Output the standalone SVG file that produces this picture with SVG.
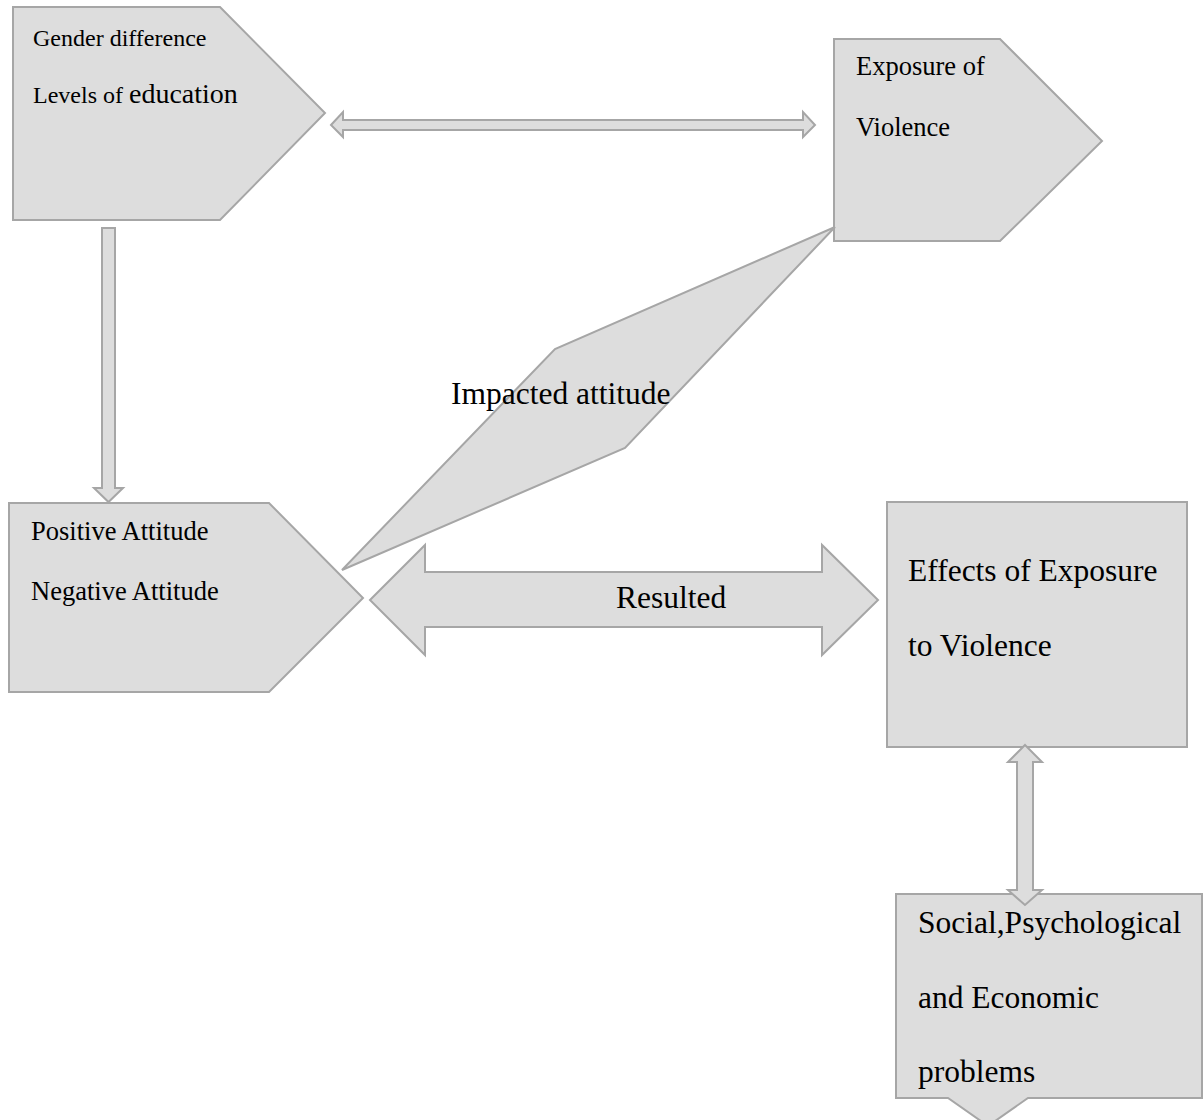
<svg xmlns="http://www.w3.org/2000/svg" width="1203" height="1120" viewBox="0 0 1203 1120">
<style>
.shape{fill:#dddddd;stroke:#a6a6a6;stroke-width:2;stroke-linejoin:miter}
.t{font-family:"Liberation Serif","Times New Roman",serif;fill:#000}
.big{font-size:31.5px}
</style>
<rect width="1203" height="1120" fill="#ffffff"/>
<g id="node-gender">
<polygon class="shape" points="13,7 220,7 325,113 220,220 13,220"/>
<text class="t" x="33" y="46" font-size="24">Gender difference</text>
<text class="t" x="33" y="103" font-size="24">Levels of <tspan font-size="28">education</tspan></text>
</g>
<g id="node-exposure">
<polygon class="shape" points="834,39 1000,39 1102,141 1000,241 834,241"/>
<text class="t" x="856" y="75" font-size="26.5">Exposure of</text>
<text class="t" x="856" y="136" font-size="26.5">Violence</text>
</g>
<g id="node-attitude">
<polygon class="shape" points="9,503 269,503 363,598 269,692 9,692"/>
<text class="t" x="31" y="540" font-size="26.5">Positive Attitude</text>
<text class="t" x="31" y="600" font-size="26.5">Negative Attitude</text>
</g>
<g id="node-effects">
<rect class="shape" x="887" y="502" width="300" height="245"/>
<text class="t big" x="908" y="581">Effects of Exposure</text>
<text class="t big" x="908" y="656">to Violence</text>
</g>
<g id="node-problems">
<polygon class="shape" points="896,894 1202,894 1202,1098 1028,1098 988,1126 948,1098 896,1098"/>
<text class="t big" x="918" y="933">Social,Psychological</text>
<text class="t big" x="918" y="1008">and Economic</text>
<text class="t big" x="918" y="1082">problems</text>
</g>
<g id="connectors">
<polygon class="shape" points="331,125 343,112 343,120 803,120 803,112 815,125 803,137 803,130 343,130 343,137"/>
<polygon class="shape" points="102,228 115,228 115,488 123,488 108.5,502 94,488 102,488"/>
<g id="impacted">
<polygon class="shape" points="342,570 555,349 835,227 625,448"/>
<text class="t big" x="451" y="404">Impacted attitude</text>
</g>
<g id="resulted">
<polygon class="shape" points="370,600 425,545 425,572 822,572 822,545 878,600 822,655 822,627 425,627 425,655"/>
<text class="t big" x="616" y="608">Resulted</text>
</g>
<polygon class="shape" points="1025,745 1042,762 1033,762 1033,890 1042,890 1025,905 1008,890 1017,890 1017,762 1008,762"/>
</g>
</svg>
